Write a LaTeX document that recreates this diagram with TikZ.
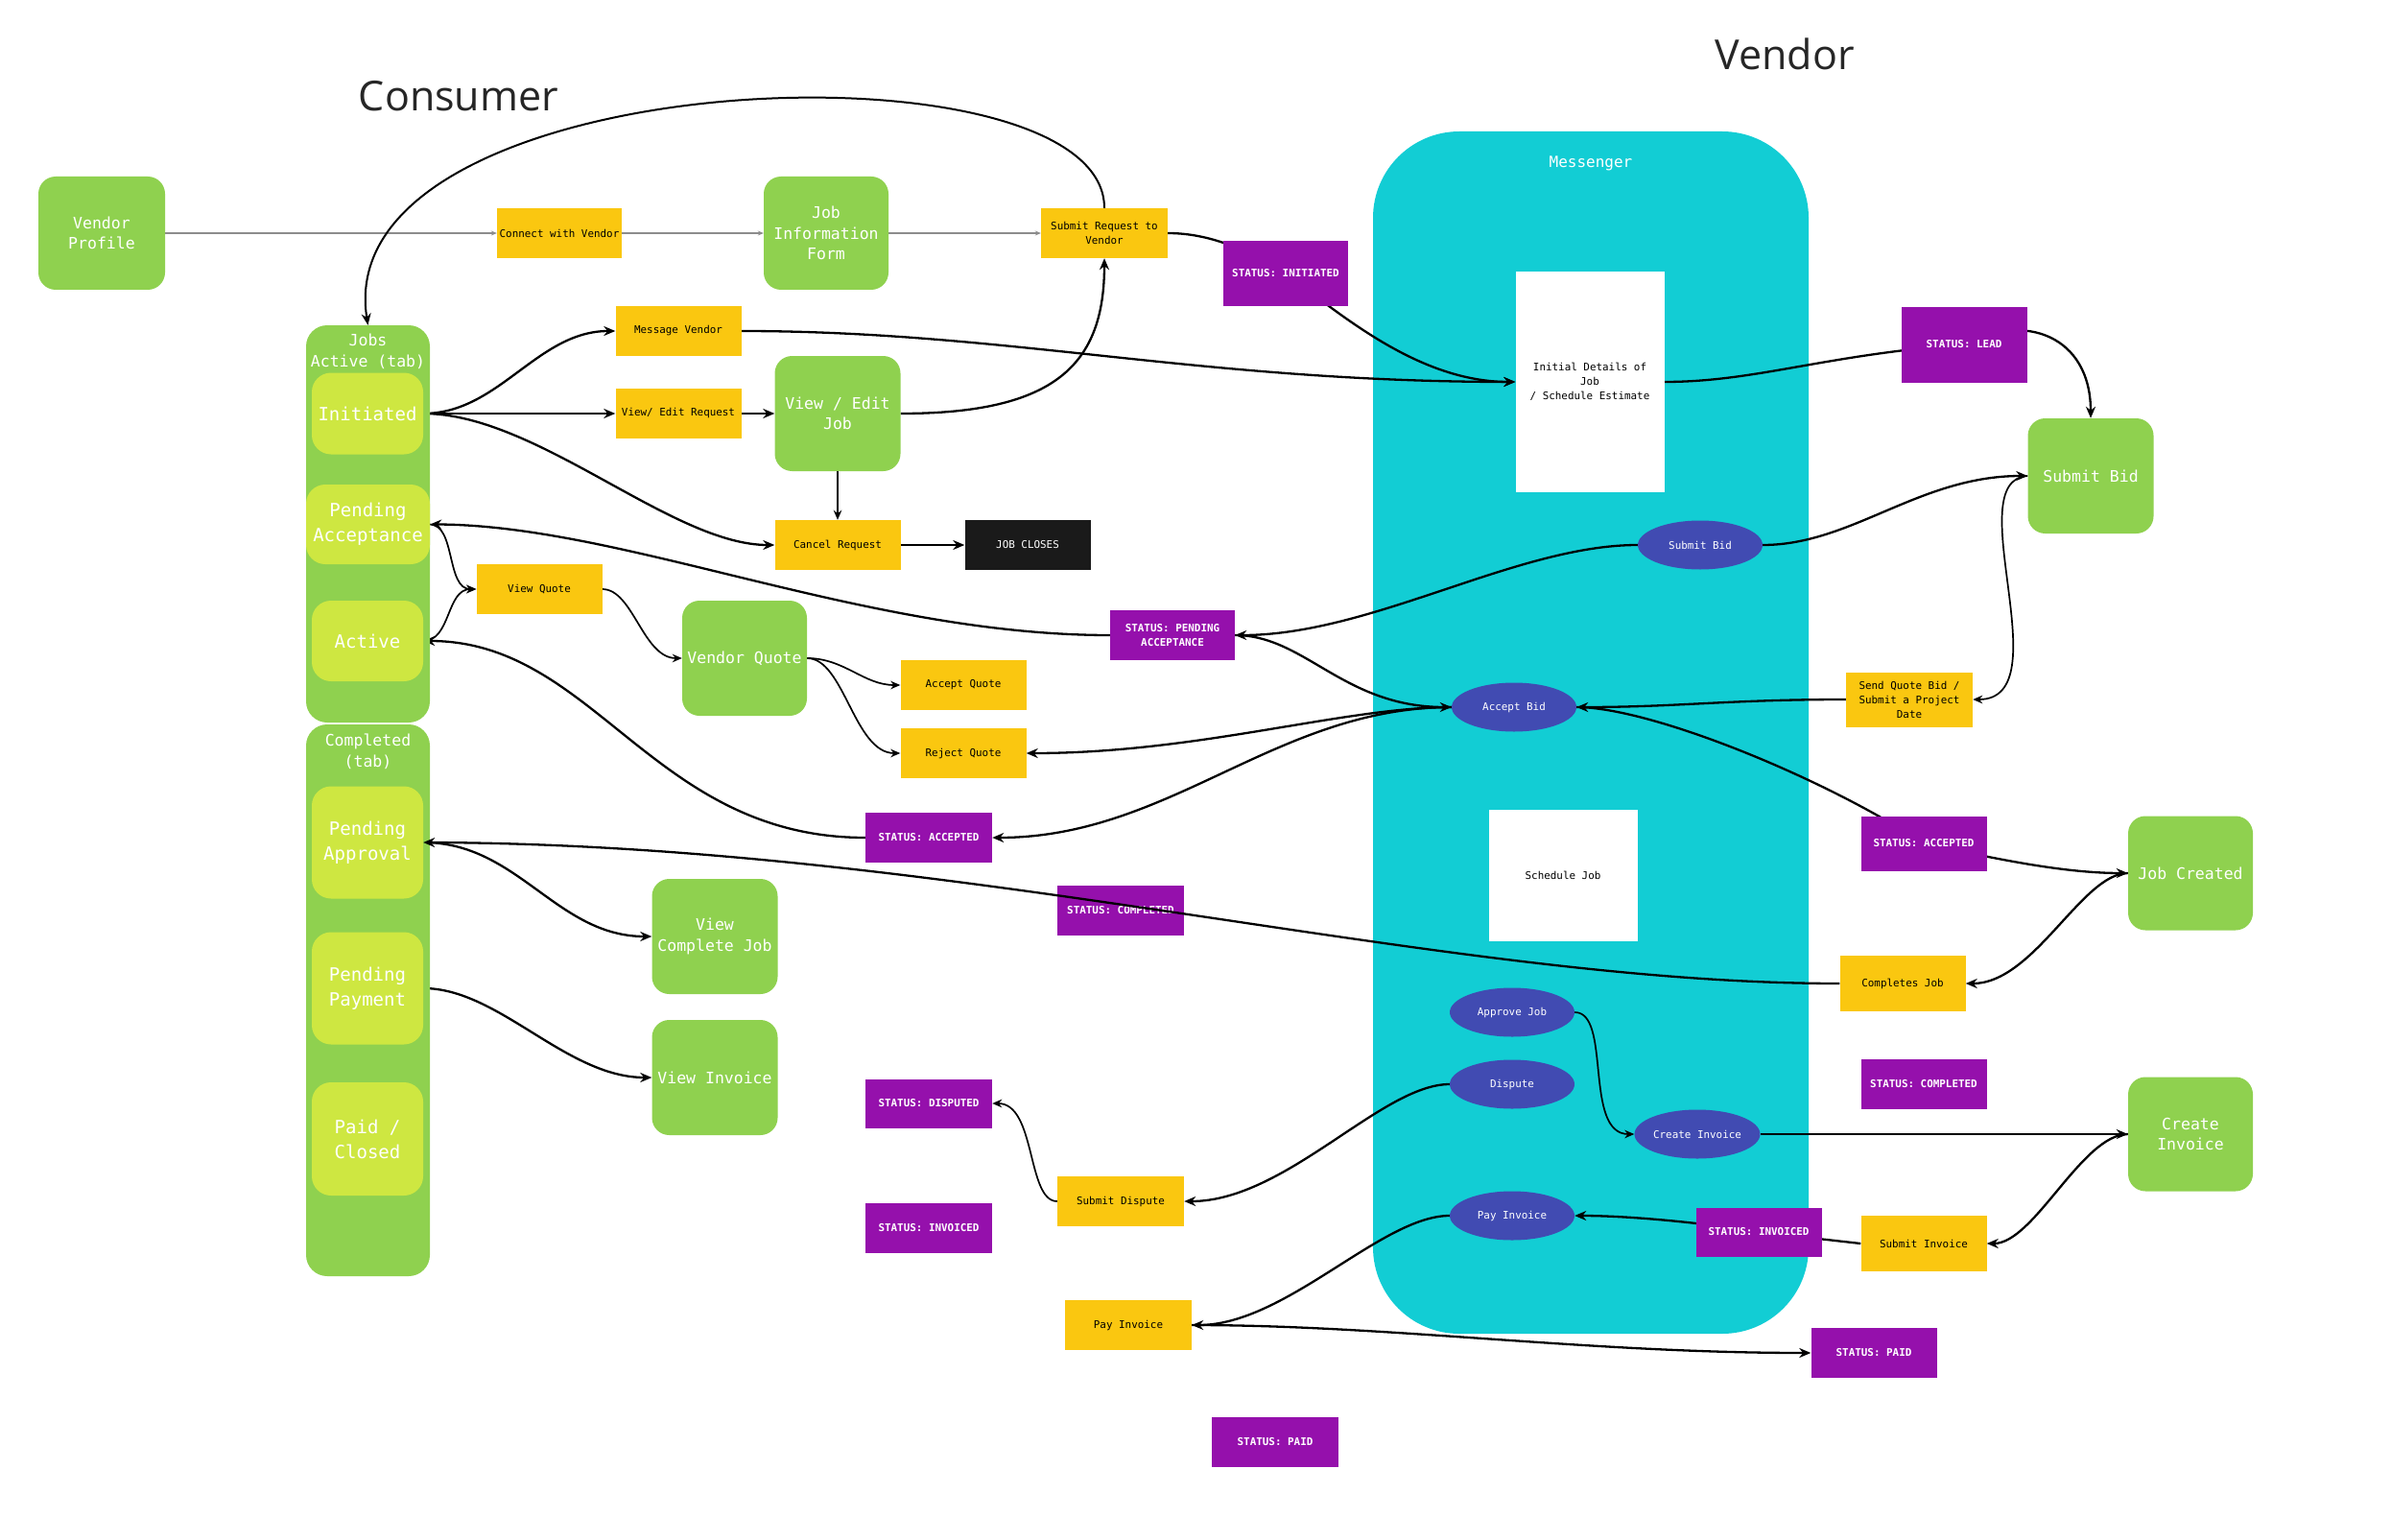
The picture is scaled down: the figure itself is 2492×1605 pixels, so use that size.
\documentclass[tikz,border=0pt]{standalone}
\usepackage{fontspec}
\setmonofont{DejaVu Sans Mono}
\newfontfamily\headfont{Open Sans}
\usetikzlibrary{arrows.meta, shapes.geometric}
\definecolor{greenc}{HTML}{8FD14F}
\definecolor{limec}{HTML}{CEE741}
\definecolor{yellowc}{HTML}{FAC710}
\definecolor{purplec}{HTML}{9510AC}
\definecolor{cyanc}{HTML}{12CDD4}
\definecolor{bluec}{HTML}{414BB2}
\definecolor{darkc}{HTML}{1A1A1A}
\pgfdeclarelayer{back}
\pgfdeclarelayer{lines}
\pgfsetlayers{back,lines,main}

\begin{document}
\begin{tikzpicture}[x=1pt, y=-1pt,
  greenbox/.style={fill=greenc, rounded corners=18pt, minimum width=130pt, minimum height=118pt, align=center, text=white, inner sep=2pt, font=\ttfamily\fontsize{16.5}{21.5}\selectfont},
  tabbox/.style={fill=greenc, rounded corners=22pt, minimum width=129pt, inner sep=0pt},
  tabtitle/.style={text=white, align=center, font=\ttfamily\fontsize{16.5}{22}\selectfont},
  statebox/.style={fill=limec, rounded corners=20pt, minimum width=116pt, align=center, text=white, inner sep=2pt, font=\ttfamily\fontsize{19}{26}\selectfont},
  stepbox/.style={fill=yellowc, minimum width=131pt, minimum height=52pt, align=center, inner sep=2pt, font=\ttfamily\fontsize{10.9}{15}\selectfont},
  statbox/.style={fill=purplec, text=white, minimum width=131pt, minimum height=52pt, align=center, inner sep=2pt, font=\ttfamily\bfseries\fontsize{10.9}{15}\selectfont},
  closebox/.style={stepbox, fill=darkc, text=white},
  msgell/.style={ellipse, fill=bluec, text=white, minimum width=130pt, minimum height=51pt, inner sep=0pt, font=\ttfamily\fontsize{10.9}{15}\selectfont},
  paper/.style={fill=white, minimum width=155pt, align=center, inner sep=2pt, font=\ttfamily\fontsize{10.9}{15}\selectfont},
  sidetitle/.style={text=black!85, font=\headfont\fontsize{43}{50}\selectfont},
  arrow/.style={-{Stealth[length=12pt,width=10pt]}, line width=2.3pt},
  thinarrow/.style={-{Stealth[length=10pt,width=8.5pt]}, line width=1.7pt},
  guide/.style={-{Stealth[length=6pt,width=5pt]}, draw=black!45, line width=1.3pt}
]
\useasboundingbox (0,0) rectangle (2492,1605);

% Titles
\node[sidetitle] (consumer) at (478,100) {Consumer};
\node[sidetitle] (vendor) at (1860,56) {Vendor};

% Consumer side
\node[greenbox, minimum width=132pt] (vprofile) at (106,243) {Vendor\\Profile};
\node[stepbox, minimum width=130pt] (connect) at (583,243) {Connect with Vendor};
\node[greenbox] (jobinfo) at (861,243) {Job\\Information\\Form};
\node[stepbox, minimum width=132pt] (subreq) at (1151,243) {Submit Request to\\Vendor};

\node[tabbox, minimum height=414pt] (jobsactive) at (383.5,546) {};
\node[tabtitle] (jobsactivetitle) at (383.5,366) {Jobs\\Active (tab)};
\node[statebox, minimum height=85pt] (initiated) at (383,431) {Initiated};
\node[statebox, minimum width=129pt, minimum height=83pt] (pendacc) at (383.5,546.5) {Pending\\Acceptance};
\node[statebox, minimum height=84pt] (active) at (383,668) {Active};

\node[tabbox, minimum height=575pt] (completed) at (383.5,1042.5) {};
\node[tabtitle] (completedtitle) at (383.5,783) {Completed\\(tab)};
\node[statebox, minimum height=117pt] (pendappr) at (383,878) {Pending\\Approval};
\node[statebox, minimum height=117pt] (pendpay) at (383,1030) {Pending\\Payment};
\node[statebox, minimum height=118pt] (paidclosed) at (383,1187) {Paid /\\Closed};

\node[stepbox] (msgvendor) at (707,345) {Message Vendor};
\node[stepbox] (viewreq) at (707,431) {View/ Edit Request};
\node[greenbox, minimum width=131pt, minimum height=120pt] (viewjob) at (873,431) {View / Edit\\Job};
\node[stepbox] (cancel) at (873,568) {Cancel Request};
\node[closebox] (jobcloses) at (1071,568) {JOB CLOSES};

\node[stepbox] (viewquote) at (562,614) {View Quote};
\node[greenbox, minimum height=120pt] (vendorquote) at (776,686) {Vendor Quote};
\node[stepbox] (acceptq) at (1004,714) {Accept Quote};
\node[stepbox] (rejectq) at (1004,785) {Reject Quote};

\node[statbox, minimum width=130pt] (stpa) at (1222,662) {STATUS: PENDING\\ACCEPTANCE};
\node[statbox, minimum width=132pt] (stacc1) at (968,873) {STATUS: ACCEPTED};
\node[statbox, minimum width=132pt] (stcomp1) at (1168,949) {STATUS: COMPLETED};

\node[greenbox, minimum width=131pt, minimum height=120pt] (viewcomplete) at (745,976) {View\\Complete Job};
\node[greenbox, minimum width=131pt, minimum height=120pt] (viewinvoice) at (745,1123) {View Invoice};

\node[statbox, minimum width=132pt, minimum height=51pt] (stdisp) at (968,1150) {STATUS: DISPUTED};
\node[statbox, minimum width=132pt] (stinv1) at (968,1280) {STATUS: INVOICED};
\node[stepbox, minimum width=132pt] (submitdisp) at (1168,1252) {Submit Dispute};
\node[stepbox, minimum width=132pt] (payinvy) at (1176,1381) {Pay Invoice};
\node[statbox, minimum width=132pt] (stpaid1) at (1329,1503) {STATUS: PAID};

% Vendor side
\begin{pgfonlayer}{back}
\node[fill=cyanc, rounded corners=90pt, minimum width=454pt, minimum height=1253pt] (messenger) at (1658,763.5) {};
\end{pgfonlayer}
\node[text=white, font=\ttfamily\fontsize{16}{20}\selectfont] (messengertitle) at (1658,170) {Messenger};
\node[paper, minimum height=229pt] (initdet) at (1657,398) {Initial Details of\\Job\\/ Schedule Estimate};
\node[paper, minimum height=137pt] (schedjob) at (1629,912) {Schedule Job};

\node[statbox, minimum width=130pt, minimum height=67pt] (stinit) at (1340,285) {STATUS: INITIATED};
\node[statbox, minimum height=79pt] (stlead) at (2047,359) {STATUS: LEAD};
\node[greenbox, minimum width=131pt, minimum height=120pt] (submitbidg) at (2179,496) {Submit Bid};
\node[msgell] (sbell) at (1772,568) {Submit Bid};
\node[msgell] (acceptbid) at (1578,737) {Accept Bid};
\node[stepbox, minimum width=132pt, minimum height=57pt] (sendq) at (1990,729) {Send Quote Bid /\\Submit a Project\\Date};

\node[statbox, minimum height=57pt] (stacc2) at (2005,879) {STATUS: ACCEPTED};
\node[greenbox, minimum height=119pt] (jobcreated) at (2283,910) {Job Created};
\node[stepbox, minimum height=58pt] (completes) at (1983,1025) {Completes Job};

\node[msgell] (approvejob) at (1576,1055) {Approve Job};
\node[msgell] (dispute) at (1576,1130) {Dispute};
\node[msgell, minimum width=131pt] (createinv) at (1769,1182) {Create Invoice};
\node[statbox] (stcomp2) at (2005,1130) {STATUS: COMPLETED};
\node[greenbox, minimum height=119pt] (createinvg) at (2283,1182) {Create\\Invoice};

\node[msgell] (payinvell) at (1576,1267) {Pay Invoice};
\node[statbox, minimum height=51pt] (stinv2) at (1833,1284) {STATUS: INVOICED};
\node[stepbox, minimum height=58pt] (submitinv) at (2005,1296) {Submit Invoice};
\node[statbox] (stpaid2) at (1953,1410) {STATUS: PAID};

% Connectors
\begin{pgfonlayer}{lines}
\draw[guide] (vprofile) -- (connect);
\draw[guide] (connect) -- (jobinfo);
\draw[guide] (jobinfo) -- (subreq);
\draw[arrow, line width=2pt] (subreq.north) .. controls (1151,35) and (340,65) .. (jobsactive.north);

\draw[arrow] (initiated.east) .. controls (520,431) and (560,345) .. (msgvendor.west);
\draw[arrow] (initiated.east) -- (viewreq.west);
\draw[arrow] (initiated.east) .. controls (560,431) and (700,568) .. (cancel.west);
\draw[arrow] (viewreq) -- (viewjob);
\draw[thinarrow] (viewjob) -- (cancel);
\draw[arrow] (viewjob.east) .. controls (1100,431) and (1151,380) .. (subreq.south);
\draw[arrow] (cancel) -- (jobcloses);

\draw[arrow] (msgvendor.east) .. controls (1050,345) and (1250,398) .. (initdet.west);
\draw[arrow] (subreq.east) .. controls (1260,243) and (1300,260) .. (stinit.center)
  .. controls (1400,330) and (1480,398) .. (initdet.west);
\draw[arrow] (initdet.east) .. controls (1830,398) and (1900,370) .. (stlead.center)
  .. controls (2110,325) and (2179,350) .. (submitbidg.north);

\draw[arrow] (sbell.east) .. controls (1930,568) and (2000,496) .. (submitbidg.west);
\draw[arrow] (sbell.west) .. controls (1580,568) and (1430,662) .. (stpa.east);
\draw[arrow] (stpa.west) .. controls (900,662) and (650,547) .. (pendacc.east);
\draw[arrow] (stpa.east) .. controls (1360,662) and (1400,737) .. (acceptbid.west);

\draw[thinarrow] (pendacc.east) .. controls (475,547) and (465,614) .. (viewquote.west);
\draw[thinarrow] (active.east) .. controls (470,668) and (465,614) .. (viewquote.west);
\draw[thinarrow] (viewquote.east) .. controls (660,614) and (670,686) .. (vendorquote.west);
\draw[thinarrow] (vendorquote.east) .. controls (880,686) and (900,714) .. (acceptq.west);
\draw[thinarrow] (vendorquote.east) .. controls (880,686) and (890,785) .. (rejectq.west);

\draw[arrow] (acceptbid.west) .. controls (1400,737) and (1250,785) .. (rejectq.east);
\draw[arrow] (acceptbid.west) .. controls (1330,737) and (1220,873) .. (stacc1.east);
\draw[arrow] (stacc1.west) .. controls (680,873) and (620,668) .. (active.east);

\draw[arrow] (sendq.west) .. controls (1800,729) and (1750,737) .. (acceptbid.east);
\draw[thinarrow] (submitbidg.west) .. controls (2040,500) and (2150,729) .. (sendq.east);
\draw[arrow] (acceptbid.east) .. controls (1720,737) and (1900,810) .. (stacc2.center)
  .. controls (2080,895) and (2150,910) .. (jobcreated.west);
\draw[arrow] (jobcreated.west) .. controls (2170,910) and (2120,1025) .. (completes.east);

\draw[arrow] (pendappr.east) .. controls (540,878) and (580,976) .. (viewcomplete.west);
\draw[arrow] (pendpay.east) .. controls (520,1030) and (590,1123) .. (viewinvoice.west);

\draw[thinarrow] (approvejob.east) .. controls (1680,1055) and (1650,1182) .. (createinv.west);
\draw[arrow] (createinv) -- (createinvg);
\draw[arrow] (createinvg.west) .. controls (2170,1182) and (2120,1296) .. (submitinv.east);
\draw[arrow] (submitinv.west) -- (stinv2.center)
  .. controls (1780,1275) and (1700,1267) .. (payinvell.east);
\draw[arrow] (payinvell.west) .. controls (1440,1267) and (1340,1381) .. (payinvy.east);
\draw[arrow] (payinvy.east) .. controls (1450,1381) and (1650,1410) .. (stpaid2.west);
\draw[arrow] (dispute.west) .. controls (1440,1130) and (1340,1252) .. (submitdisp.east);
\draw[thinarrow] (submitdisp.west) .. controls (1070,1252) and (1080,1150) .. (stdisp.east);
\end{pgfonlayer}

% this one runs over its status label
\draw[arrow] (completes.west) .. controls (1500,1025) and (1000,880) .. (pendappr.east);
\end{tikzpicture}
\end{document}
